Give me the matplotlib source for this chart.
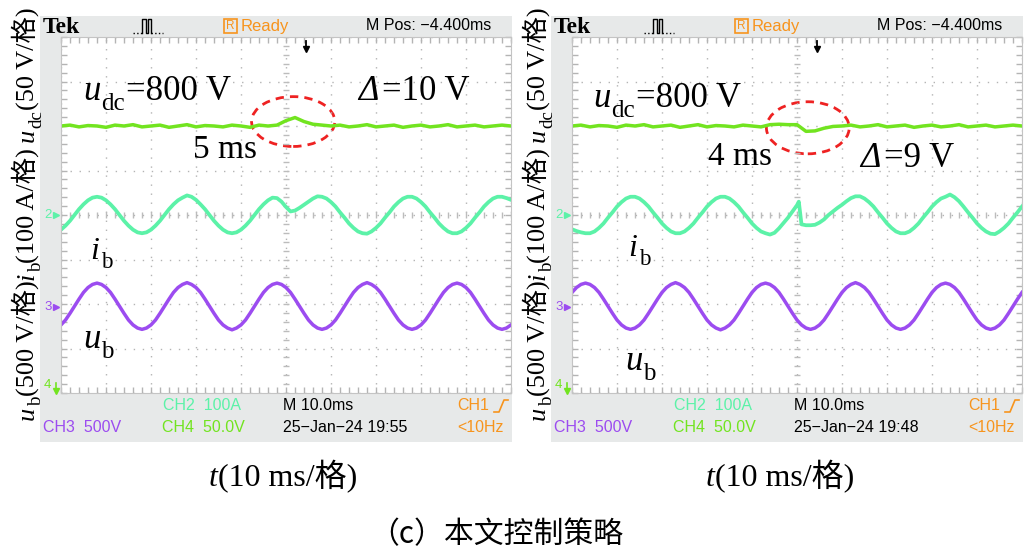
import matplotlib
matplotlib.use('Agg')
import matplotlib.pyplot as plt
import numpy as np
from matplotlib.patches import Ellipse, Rectangle
from matplotlib.lines import Line2D
from matplotlib.transforms import IdentityTransform

W, H = 1028, 553

# sample instants (ms): 2 ms steps for the dc traces, 1 ms steps for the ac traces
T_MS = [0, 2, 4, 6, 8, 10, 12, 14, 16, 18, 20, 22, 24, 26, 28, 30, 32, 34, 36, 38,
        40, 42, 44, 46, 48, 50, 52, 54, 56, 58, 60, 62, 64, 66, 68, 70, 72, 74, 76, 78,
        80, 82, 84, 86, 88, 90, 92, 94, 96, 98, 100]
T_FINE = list(range(0, 101))

# left scope, values in divisions
udc_left = [2.00, 2.02, 1.98, 2.01, 2.00, 1.97, 2.02, 2.00, 2.03, 1.98, 2.00, 2.02, 1.97, 2.00,
            2.03, 1.98, 2.01, 2.00, 1.98, 2.02, 2.00, 1.97, 2.02, 2.00, 2.02, 2.12, 2.19, 2.10,
            2.04, 2.02, 2.00, 2.02, 1.98, 2.00, 2.03, 1.98, 2.00, 2.02, 1.97, 2.00, 2.02, 1.98,
            2.00, 2.03, 1.98, 2.00, 2.02, 1.98, 2.00, 2.02, 2.00]
ib_left = [-0.33, -0.24, -0.13, 0.00, 0.13, 0.24, 0.33, 0.39,
           0.41, 0.39, 0.33, 0.24, 0.13, 0.00, -0.13, -0.24, -0.33, -0.39,
           -0.41, -0.39, -0.33, -0.24, -0.13, 0.00, 0.13, 0.24, 0.33, 0.39,
           0.44, 0.41, 0.34, 0.24, 0.13, 0.00, -0.13, -0.24, -0.33, -0.39,
           -0.41, -0.39, -0.33, -0.24, -0.13, 0.00, 0.13, 0.24, 0.33, 0.39,
           0.38, 0.30, 0.18, 0.08, 0.10, 0.16, 0.23, 0.30, 0.37, 0.42,
           0.41, 0.37, 0.29, 0.19, 0.06, -0.06, -0.19, -0.29, -0.37, -0.41,
           -0.42, -0.37, -0.29, -0.19, -0.06, 0.06, 0.19, 0.29, 0.37, 0.41,
           0.41, 0.37, 0.29, 0.19, 0.06, -0.06, -0.19, -0.29, -0.37, -0.41,
           -0.41, -0.37, -0.29, -0.19, -0.06, 0.06, 0.19, 0.29, 0.37, 0.41,
           0.41, 0.38, 0.34]
ub_left = [-2.47, -2.36, -2.21, -2.05, -1.89, -1.74, -1.63, -1.56,
           -1.53, -1.56, -1.63, -1.74, -1.89, -2.05, -2.21, -2.36, -2.47, -2.54,
           -2.57, -2.54, -2.47, -2.36, -2.21, -2.05, -1.89, -1.74, -1.63, -1.56,
           -1.52, -1.56, -1.63, -1.74, -1.89, -2.05, -2.21, -2.36, -2.47, -2.54,
           -2.58, -2.54, -2.47, -2.36, -2.21, -2.05, -1.89, -1.74, -1.63, -1.56,
           -1.53, -1.56, -1.63, -1.74, -1.89, -2.05, -2.21, -2.36, -2.47, -2.54,
           -2.57, -2.54, -2.47, -2.36, -2.21, -2.05, -1.89, -1.74, -1.63, -1.56,
           -1.52, -1.56, -1.63, -1.74, -1.89, -2.05, -2.21, -2.36, -2.47, -2.54,
           -2.57, -2.54, -2.47, -2.36, -2.21, -2.05, -1.89, -1.74, -1.63, -1.56,
           -1.53, -1.56, -1.63, -1.74, -1.89, -2.05, -2.21, -2.36, -2.47, -2.54,
           -2.57, -2.54, -2.47]

# right scope, values in divisions
udc_right = [2.00, 2.02, 1.98, 2.01, 2.00, 1.97, 2.02, 2.00, 2.03, 1.98, 2.00, 2.02, 1.97, 2.00,
             2.03, 1.98, 2.01, 2.00, 1.98, 2.02, 2.00, 1.98, 2.03, 2.04, 2.03, 2.03, 1.88, 1.89,
             1.95, 1.99, 2.00, 2.02, 1.98, 2.00, 2.03, 1.98, 2.00, 2.02, 1.97, 2.00, 2.02, 1.98,
             2.00, 2.03, 1.98, 2.00, 2.02, 1.98, 2.00, 2.02, 2.00]
ib_right_t = T_FINE[:51] + [50.4] + T_FINE[51:]
ib_right = [-0.32, -0.36, -0.39, -0.41, -0.41, -0.37, -0.29, -0.19, -0.06, 0.06, 0.19, 0.29,
            0.37, 0.41,
            0.41, 0.37, 0.29, 0.19, 0.06, -0.06, -0.19, -0.29, -0.37, -0.41,
            -0.41, -0.37, -0.29, -0.19, -0.06, 0.06, 0.19, 0.29, 0.37, 0.41,
            0.41, 0.37, 0.29, 0.19, 0.06, -0.06, -0.19, -0.29, -0.37, -0.41,
            -0.44, -0.40, -0.30, -0.18, -0.06, 0.08, 0.22,
            0.30,
            -0.21, -0.23, -0.23, -0.22, -0.17, -0.10, 0.00, 0.08, 0.16, 0.23, 0.31, 0.38, 0.42,
            0.42, 0.37, 0.29, 0.19, 0.06, -0.06, -0.19, -0.29, -0.37, -0.41,
            -0.41, -0.37, -0.29, -0.19, -0.06, 0.06, 0.19, 0.29, 0.37, 0.41,
            0.46, 0.40, 0.31, 0.19, 0.06, -0.06, -0.19, -0.29, -0.37, -0.42,
            -0.43, -0.37, -0.29, -0.19, -0.06, 0.06, 0.19]
ub_right = [-1.74, -1.63, -1.56,
            -1.53, -1.56, -1.63, -1.74, -1.89, -2.05, -2.21, -2.36, -2.47, -2.54,
            -2.57, -2.54, -2.47, -2.36, -2.21, -2.05, -1.89, -1.74, -1.63, -1.56,
            -1.52, -1.56, -1.63, -1.74, -1.89, -2.05, -2.21, -2.36, -2.47, -2.54,
            -2.58, -2.54, -2.47, -2.36, -2.21, -2.05, -1.89, -1.74, -1.63, -1.56,
            -1.53, -1.56, -1.63, -1.74, -1.89, -2.05, -2.21, -2.36, -2.47, -2.54,
            -2.57, -2.54, -2.47, -2.36, -2.21, -2.05, -1.89, -1.74, -1.63, -1.56,
            -1.52, -1.56, -1.63, -1.74, -1.89, -2.05, -2.21, -2.36, -2.47, -2.54,
            -2.57, -2.54, -2.47, -2.36, -2.21, -2.05, -1.89, -1.74, -1.63, -1.56,
            -1.53, -1.56, -1.63, -1.74, -1.89, -2.05, -2.21, -2.36, -2.47, -2.54,
            -2.57, -2.54, -2.47, -2.36, -2.21, -2.05, -1.89, -1.74]

dates = ['25\u2212Jan\u221224 19:55', '25\u2212Jan\u221224 19:48']

LIME = '#72e420'
AQUA = '#5cf2a8'
PURPLE = '#9c4cf0'
ORANGE = '#f7941d'
BG = '#e7e9e9'
GRID = '#b4b4b4'
SERIF = ['Liberation Serif', 'Noto Sans CJK SC']
SANS = ['Liberation Sans', 'DejaVu Sans']

fig = plt.figure(figsize=(W / 100, H / 100), dpi=100)
ren = fig.canvas.get_renderer()


def ftext(x, y, s, **kw):
    # x, y are image pixels from the top-left corner
    return fig.text(x, H - y, s, transform=IdentityTransform(), **kw)


def fline(xs, ys, **kw):
    fig.add_artist(Line2D(xs, [H - v for v in ys], transform=IdentityTransform(), **kw))


def chain(x, y, pieces, size, rot=0, center=False):
    """pieces: (text, italic, subscript, gap px), drawn one after another"""
    drop = size * 100 / 72 * 0.28
    pos = 0.0
    arts = []
    for s, ital, sub, gap in pieces:
        d = drop if sub else 0.0
        if rot == 0:
            xy = (x + pos, H - y - d)
        else:
            xy = (x + d, H - y + pos)
        t = fig.text(xy[0], xy[1], s, transform=IdentityTransform(),
                     fontsize=size * (0.72 if sub else 1.0), fontfamily=SERIF,
                     style='italic' if ital else 'normal', rotation=rot,
                     rotation_mode='anchor', ha='left', va='baseline')
        bb = t.get_window_extent(ren)
        pos += (bb.width if rot == 0 else bb.height) + gap
        arts.append(t)
    if center:
        for t in arts:
            a, b = t.get_position()
            t.set_position((a - pos / 2, b))


def scope(o, udc, ib_t, ib, ub, date):
    # grey instrument frame
    fig.add_artist(Rectangle((40 + o, H - 442), 472, 426, transform=IdentityTransform(),
                             facecolor=BG, edgecolor='none', zorder=-5))
    ax = fig.add_axes([(61 + o) / W, 1 - 393 / H, 450 / W, 356 / H])
    ax.set_facecolor('white')
    ax.set_xlim(0, 100)
    ax.set_ylim(-4, 4)
    ax.set_xticks(np.arange(0, 101, 10))
    ax.set_yticks(np.arange(-4, 5, 1))
    ax.set_xticks(np.arange(0, 101, 2), minor=True)
    ax.set_yticks(np.arange(-4, 4.01, 0.2), minor=True)
    ax.tick_params(which='both', direction='in', length=4, width=1, color=GRID,
                   top=True, right=True, labelleft=False, labelbottom=False)
    ax.grid(which='major', color=GRID, linestyle=(0, (1, 5.5)), lw=1)
    for sp in ax.spines.values():
        sp.set_color('#c4c4c4')
    ax.plot(np.full(41, 50), np.linspace(-4, 4, 41), ls='none', marker='_', ms=4.5,
            mew=1, color='#bcbcbc')
    ax.plot(np.arange(0, 101, 2), np.zeros(51), ls='none', marker='|', ms=4.5,
            mew=1, color='#bcbcbc')

    ax.plot(T_MS, udc, color=LIME, lw=2.5, solid_joinstyle='round')
    ax.plot(ib_t, ib, color=AQUA, lw=2.7, solid_joinstyle='round')
    ax.plot(T_FINE, ub, color=PURPLE, lw=2.5, solid_joinstyle='round')

    # header
    ftext(43 + o, 33, 'Tek', fontsize=17, fontweight='bold', fontfamily='Liberation Serif',
          va='baseline')
    fline([133 + o, 142 + o], [33, 33], color='k', lw=1, ls=':')
    fline([142 + o, 142 + o, 146 + o, 146 + o, 148 + o, 148 + o, 151 + o, 151 + o],
          [33, 19, 19, 33, 33, 19, 19, 33], color='k', lw=1)
    fline([151 + o, 163 + o], [33, 33], color='k', lw=1, ls=':')
    fig.add_artist(Rectangle((224 + o, H - 33), 13, 14, transform=IdentityTransform(),
                             facecolor='none', edgecolor=ORANGE, lw=1.2))
    ftext(230.5 + o, 26, 'R', fontsize=8.5, color=ORANGE, fontfamily=SANS, ha='center', va='center')
    ftext(241 + o, 26, 'Ready', fontsize=12, color=ORANGE, fontfamily=SANS, va='center')
    ftext(366 + o, 26, 'M Pos: \u22124.400ms', fontsize=11.5, color='k', fontfamily=SANS,
          va='center')
    # trigger position arrow
    fline([306 + o, 306 + o], [41, 47], color='k', lw=1.3)
    ax.plot([54.4], [3.72], marker='v', ms=5, color='k', clip_on=False)

    # channel markers
    ftext(44 + o, 215, '2', fontsize=9.5, color=AQUA, fontfamily=SANS, va='center')
    ax.plot([-1.1], [0], marker='>', ms=4, color=AQUA, clip_on=False)
    ftext(44 + o, 307, '3', fontsize=9.5, color=PURPLE, fontfamily=SANS, va='center')
    ax.plot([-1.1], [-2.07], marker='>', ms=4, color=PURPLE, clip_on=False)
    ftext(44 + o, 385, '4', fontsize=9.5, color=LIME, fontfamily=SANS, va='center')
    fline([56 + o, 56 + o], [383, 392], color=LIME, lw=1.2)
    ax.plot([-1.1], [-3.95], marker='v', ms=4, color=LIME, clip_on=False)

    # status bar
    ftext(163 + o, 406, 'CH2  100A', fontsize=11.5, color=AQUA, fontfamily=SANS, va='center')
    ftext(283 + o, 406, 'M 10.0ms', fontsize=11.5, color='k', fontfamily=SANS, va='center')
    ftext(457 + o, 406, 'CH1', fontsize=11.5, color=ORANGE, fontfamily=SANS, va='center')
    fline([494 + o, 499 + o, 504 + o, 508 + o], [412, 412, 400, 400], color=ORANGE, lw=1.2)
    ftext(43 + o, 428, 'CH3  500V', fontsize=11.5, color=PURPLE, fontfamily=SANS, va='center')
    ftext(162 + o, 428, 'CH4  50.0V', fontsize=11.5, color=LIME, fontfamily=SANS, va='center')
    ftext(283 + o, 428, date, fontsize=11.5, color='k', fontfamily=SANS, va='center')
    ftext(457 + o, 428, '<10Hz', fontsize=11.5, color=ORANGE, fontfamily=SANS, va='center')
    return ax


axL = scope(0, udc_left, T_FINE, ib_left, ub_left, dates[0])
axR = scope(511, udc_right, ib_right_t, ib_right, ub_right, dates[1])

# dashed red markers around the dc-link disturbance
axL.add_patch(Ellipse((51.6, 2.10), 18.5, 1.12, fill=False, ec='#ee2222', lw=2,
                      ls=(0, (3, 2.2))))
axR.add_patch(Ellipse((52.4, 1.96), 18.4, 1.17, fill=False, ec='#ee2222', lw=2,
                      ls=(0, (3, 2.2))))

# annotations
chain(83, 100, [('u', 1, 0, 1), ('dc', 0, 1, 1), ('=800 V', 0, 0, 0)], 25)
chain(358, 100, [('\u0394', 1, 0, 4), ('=10 V', 0, 0, 0)], 25)
chain(193, 158, [('5 ms', 0, 0, 0)], 24)
chain(90, 259, [('i', 1, 0, 2), ('b', 0, 1, 0)], 23)
chain(83, 348, [('u', 1, 0, 1), ('b', 0, 1, 0)], 25)

chain(593, 107, [('u', 1, 0, 1), ('dc', 0, 1, 1), ('=800 V', 0, 0, 0)], 25)
chain(708, 165, [('4 ms', 0, 0, 0)], 24)
chain(860, 167, [('\u0394', 1, 0, 4), ('=9 V', 0, 0, 0)], 25)
chain(628, 256, [('i', 1, 0, 2), ('b', 0, 1, 0)], 23)
chain(625, 370, [('u', 1, 0, 1), ('b', 0, 1, 0)], 25)

# axis titles
ylab = [('u', 1, 0, 1), ('b', 0, 1, 0), ('(500 V/格)', 0, 0, 0),
        ('i', 1, 0, 1), ('b', 0, 1, 0), ('(100 A/格)', 0, 0, 6),
        ('u', 1, 0, 1), ('dc', 0, 1, 0), ('(50 V/格)', 0, 0, 0)]
chain(34, 420, ylab, 19, rot=90)
chain(545, 420, ylab, 19, rot=90)
chain(283, 486, [('t', 1, 0, 0), ('(10 ms/格)', 0, 0, 0)], 23, center=True)
chain(780, 486, [('t', 1, 0, 0), ('(10 ms/格)', 0, 0, 0)], 23, center=True)

ftext(496, 535, '（c）本文控制策略', fontsize=21.5, fontfamily=['Noto Sans CJK SC'],
      ha='center', va='center')

fig.savefig('out.png', dpi=100)
